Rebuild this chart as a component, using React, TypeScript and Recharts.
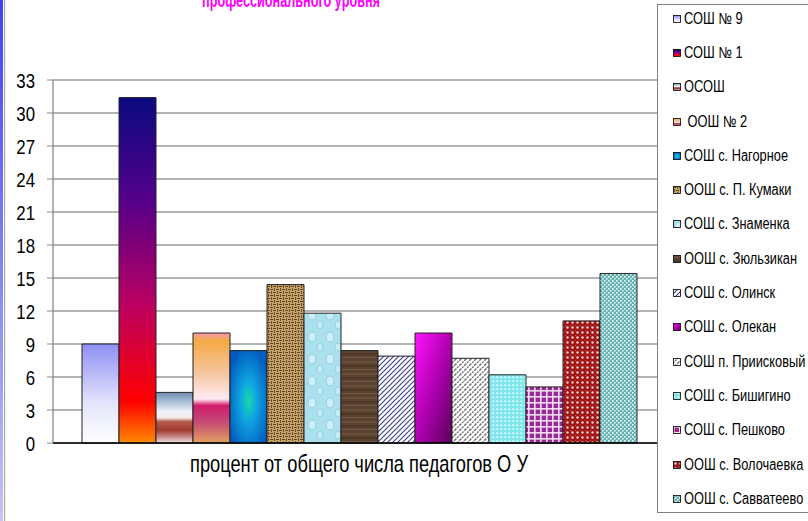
import React from "react";
import {
  BarChart,
  Bar,
  XAxis,
  YAxis,
  CartesianGrid,
} from "recharts";

// schools (legend order = bar order)
const schools = [
  "СОШ № 9",
  "СОШ № 1",
  "ОСОШ",
  " ООШ № 2",
  "СОШ с. Нагорное",
  "ООШ с. П. Кумаки",
  "СОШ с. Знаменка",
  "ООШ с. Зюльзикан",
  "СОШ с. Олинск",
  "СОШ с. Олекан",
  "СОШ п. Приисковый",
  "СОШ с. Бишигино",
  "СОШ с. Пешково",
  "ООШ с. Волочаевка",
  "ООШ с. Савватеево",
];

// percent of all teachers
const percents = [9, 31.4, 4.6, 10, 8.4, 14.4, 11.8, 8.4, 7.9, 10, 7.7, 6.2, 5.1, 11.1, 15.4];

const yTicks = [0, 3, 6, 9, 12, 15, 18, 21, 24, 27, 30, 33];

const category = "процент от общего числа педагогов О У";
const title = "профессионального уровня";

// Arial Narrow is not available: Liberation Sans squeezed horizontally
const FONT = '"Liberation Sans", Arial, sans-serif';
const NARROW = 0.8;

const keys = schools.map((_, i) => `s${i}`);

const chartData = [
  percents.reduce(
    (row, v, i) => {
      row[keys[i]] = v;
      return row;
    },
    { name: category } as Record<string, any>
  ),
];

// fill definitions: gradients and textures, one per school
const FillDefs = () => (
  <defs>
    <linearGradient id="f0" x1="0" y1="0" x2="0" y2="1">
      <stop offset="0" stopColor="#8f8ff4" />
      <stop offset="0.6" stopColor="#e4e4fb" />
      <stop offset="1" stopColor="#ffffff" />
    </linearGradient>
    <linearGradient id="f1" x1="0" y1="0" x2="0" y2="1">
      <stop offset="0" stopColor="#0a0a80" />
      <stop offset="0.3" stopColor="#55008a" />
      <stop offset="0.6" stopColor="#bb0060" />
      <stop offset="0.88" stopColor="#ff0000" />
      <stop offset="1" stopColor="#ff8a00" />
    </linearGradient>
    <linearGradient id="f2" x1="0" y1="0" x2="0" y2="1">
      <stop offset="0" stopColor="#6a8cb4" />
      <stop offset="0.38" stopColor="#eef2f7" />
      <stop offset="0.5" stopColor="#f4ecea" />
      <stop offset="0.58" stopColor="#b25a4a" />
      <stop offset="0.75" stopColor="#a23a32" />
      <stop offset="0.88" stopColor="#c88a88" />
      <stop offset="1" stopColor="#f2e2e2" />
    </linearGradient>
    <linearGradient id="f3" x1="0" y1="0" x2="0" y2="1">
      <stop offset="0" stopColor="#f39aae" />
      <stop offset="0.07" stopColor="#f4aa44" />
      <stop offset="0.35" stopColor="#f5c49a" />
      <stop offset="0.6" stopColor="#ffeaf2" />
      <stop offset="0.66" stopColor="#d01c6c" />
      <stop offset="0.8" stopColor="#c44676" />
      <stop offset="1" stopColor="#e2a060" />
    </linearGradient>
    <radialGradient id="f4" cx="0.5" cy="0.55" r="0.6">
      <stop offset="0" stopColor="#14dcaa" />
      <stop offset="0.35" stopColor="#10a6e0" />
      <stop offset="1" stopColor="#005cc0" />
    </radialGradient>
    <pattern id="f5" width="6" height="6" patternUnits="userSpaceOnUse">
      <rect width="6" height="6" fill="#c8a66c" />
      <path d="M0 1.5H3M3 4.5H6" stroke="#5e4020" strokeWidth="1.1" />
      <path d="M4.5 0V3M1.5 3V6" stroke="#6e4e28" strokeWidth="1.1" />
    </pattern>
    <pattern id="f6" width="18" height="22" patternUnits="userSpaceOnUse">
      <rect width="18" height="22" fill="#abe0ee" />
      <ellipse cx="6" cy="7" rx="4" ry="5" fill="#cdf0f8" stroke="#86c6da" strokeWidth="0.8" />
      <ellipse cx="14" cy="17" rx="3" ry="4" fill="#c6ecf6" stroke="#8ccadc" strokeWidth="0.8" />
    </pattern>
    <pattern id="f7" width="37" height="12" patternUnits="userSpaceOnUse">
      <rect width="37" height="12" fill="#5a4230" />
      <path d="M0 2H37" stroke="#705640" strokeWidth="1.5" />
      <path d="M0 6H37" stroke="#3c2a1e" strokeWidth="1" />
      <path d="M0 9.5H37" stroke="#7a604a" strokeWidth="0.8" />
    </pattern>
    <pattern id="f8" width="5" height="5" patternUnits="userSpaceOnUse">
      <rect width="5" height="5" fill="#ffffff" />
      <path d="M0 5L5 0M-1 1L1 -1M4 6L6 4" stroke="#3a3a8c" strokeWidth="1.1" />
    </pattern>
    <linearGradient id="f9" x1="0" y1="0" x2="1" y2="1">
      <stop offset="0" stopColor="#ff14ff" />
      <stop offset="0.5" stopColor="#b000b0" />
      <stop offset="1" stopColor="#5a005a" />
    </linearGradient>
    <pattern id="f10" width="5" height="5" patternUnits="userSpaceOnUse">
      <rect width="5" height="5" fill="#ffffff" />
      <path d="M0 5L5 0M-1 1L1 -1M4 6L6 4" stroke="#6e6e6e" strokeWidth="1.4" strokeDasharray="2 1" />
    </pattern>
    <pattern id="f11" width="4" height="4" patternUnits="userSpaceOnUse">
      <rect width="4" height="4" fill="#80e8ec" />
      <rect x="0.5" y="0.5" width="1.5" height="1.5" fill="#ffffff" />
    </pattern>
    <pattern id="f12" width="6" height="6" patternUnits="userSpaceOnUse">
      <rect width="6" height="6" fill="#982a98" />
      <rect width="6" height="1.6" fill="#f4dcf4" />
      <rect width="1.6" height="6" fill="#f4dcf4" />
    </pattern>
    <pattern id="f13" width="5" height="5" patternUnits="userSpaceOnUse">
      <rect width="5" height="5" fill="#a01414" />
      <circle cx="2.5" cy="2.5" r="1.2" fill="#f2d2d2" />
      <circle cx="0" cy="0" r="0.7" fill="#e8b8b8" />
    </pattern>
    <pattern id="f14" width="4" height="4" patternUnits="userSpaceOnUse">
      <rect width="4" height="4" fill="#62b2b2" />
      <rect x="0" y="0" width="1.6" height="1.6" fill="#ffffff" />
      <rect x="2" y="2" width="1.6" height="1.6" fill="#e6f6f6" />
    </pattern>
  </defs>
);

const legendIcon = ["f0", "f1", "f2", "f3", "f4", "f5", "f6", "f7", "f8", "f9", "f10", "f11", "f12", "f13", "f14"];

const NarrowTick = (props: any) => {
  const { x, y, payload } = props;
  return (
    <g transform={`translate(${x},${y}) scale(${NARROW},1)`}>
      <text x={0} y={0} dy="0.36em" textAnchor="end" fill="#000" fontSize={21} fontFamily={FONT}>
        {payload.value}
      </text>
    </g>
  );
};

const CategoryLabel = (props: any) => {
  const vb = props.viewBox || { x: 53, y: 443, width: 612, height: 40 };
  return (
    <text
      x={vb.x + vb.width / 2}
      y={vb.y + vb.height - 11}
      textAnchor="middle"
      fill="#000"
      fontSize={24}
      fontFamily={FONT}
      textLength={338}
      lengthAdjust="spacingAndGlyphs"
    >
      {category}
    </text>
  );
};

const App = () => {
  return (
    <div
      style={{
        position: "absolute",
        left: 0,
        top: 0,
        width: 808,
        height: 521,
        background: "#fff",
        overflow: "hidden",
        fontFamily: FONT,
      }}
    >
      <BarChart
        width={808}
        height={521}
        data={chartData}
        margin={{ top: 80, right: 143, left: 0, bottom: 38 }}
        barGap={0}
        barCategoryGap={29}
      >
        <FillDefs />
        <CartesianGrid vertical={false} stroke="#9a9a9a" strokeWidth={1.3} />
        <XAxis
          dataKey="name"
          height={40}
          tick={false}
          tickLine={false}
          axisLine={{ stroke: "#000", strokeWidth: 1.3 }}
          label={{ position: "insideBottom", content: CategoryLabel }}
        />
        <YAxis
          width={53}
          domain={[0, 33]}
          ticks={yTicks}
          interval={0}
          tickSize={6}
          tickMargin={12}
          axisLine={{ stroke: "#8a8a8a", strokeWidth: 1.3 }}
          tickLine={{ stroke: "#8a8a8a" }}
          tick={<NarrowTick />}
        />
        {keys.map((k, i) => (
          <Bar
            key={k}
            dataKey={k}
            name={schools[i]}
            fill={`url(#f${i})`}
            stroke="#222"
            strokeWidth={1}
            isAnimationActive={false}
          />
        ))}
      </BarChart>

      {/* title (cut off at the top, as in the source) and left blue frame */}
      <svg
        width={808}
        height={521}
        style={{ position: "absolute", left: 0, top: 0, pointerEvents: "none" }}
      >
        <defs>
          <linearGradient id="frame" x1="0" y1="0" x2="0" y2="1">
            <stop offset="0" stopColor="#4040f8" />
            <stop offset="1" stopColor="#c4c4f2" />
          </linearGradient>
        </defs>
        <rect x={0} y={0} width={3} height={521} fill="url(#frame)" />
        <rect x={4} y={0} width={1.2} height={521} fill="#a8a8a8" />
        <text
          x={291}
          y={7}
          textAnchor="middle"
          fill="#ff00ff"
          fontWeight="bold"
          fontSize={20}
          fontFamily={FONT}
          textLength={178}
          lengthAdjust="spacingAndGlyphs"
        >
          {title}
        </text>
      </svg>

      {/* legend box */}
      <div
        style={{
          position: "absolute",
          left: 657,
          top: 4,
          width: 170,
          height: 509,
          border: "1px solid #808080",
          background: "#fff",
          boxSizing: "border-box",
        }}
      >
        <div style={{ position: "absolute", left: 15, top: -3.5 }}>
          {schools.map((s, i) => (
            <div
              key={s}
              style={{
                height: 34.3,
                display: "flex",
                alignItems: "center",
                whiteSpace: "pre",
                color: "#000",
              }}
            >
              <svg width={8} height={8} style={{ marginRight: 3, flex: "none" }}>
                <rect
                  x={0.5}
                  y={0.5}
                  width={7}
                  height={7}
                  fill={`url(#${legendIcon[i]})`}
                  stroke="#000"
                  strokeWidth={0.8}
                />
              </svg>
              <span
                style={{
                  display: "inline-block",
                  fontSize: 16,
                  transform: `scaleX(${NARROW})`,
                  transformOrigin: "left center",
                }}
              >
                {s}
              </span>
            </div>
          ))}
        </div>
      </div>
    </div>
  );
};

export default App;
